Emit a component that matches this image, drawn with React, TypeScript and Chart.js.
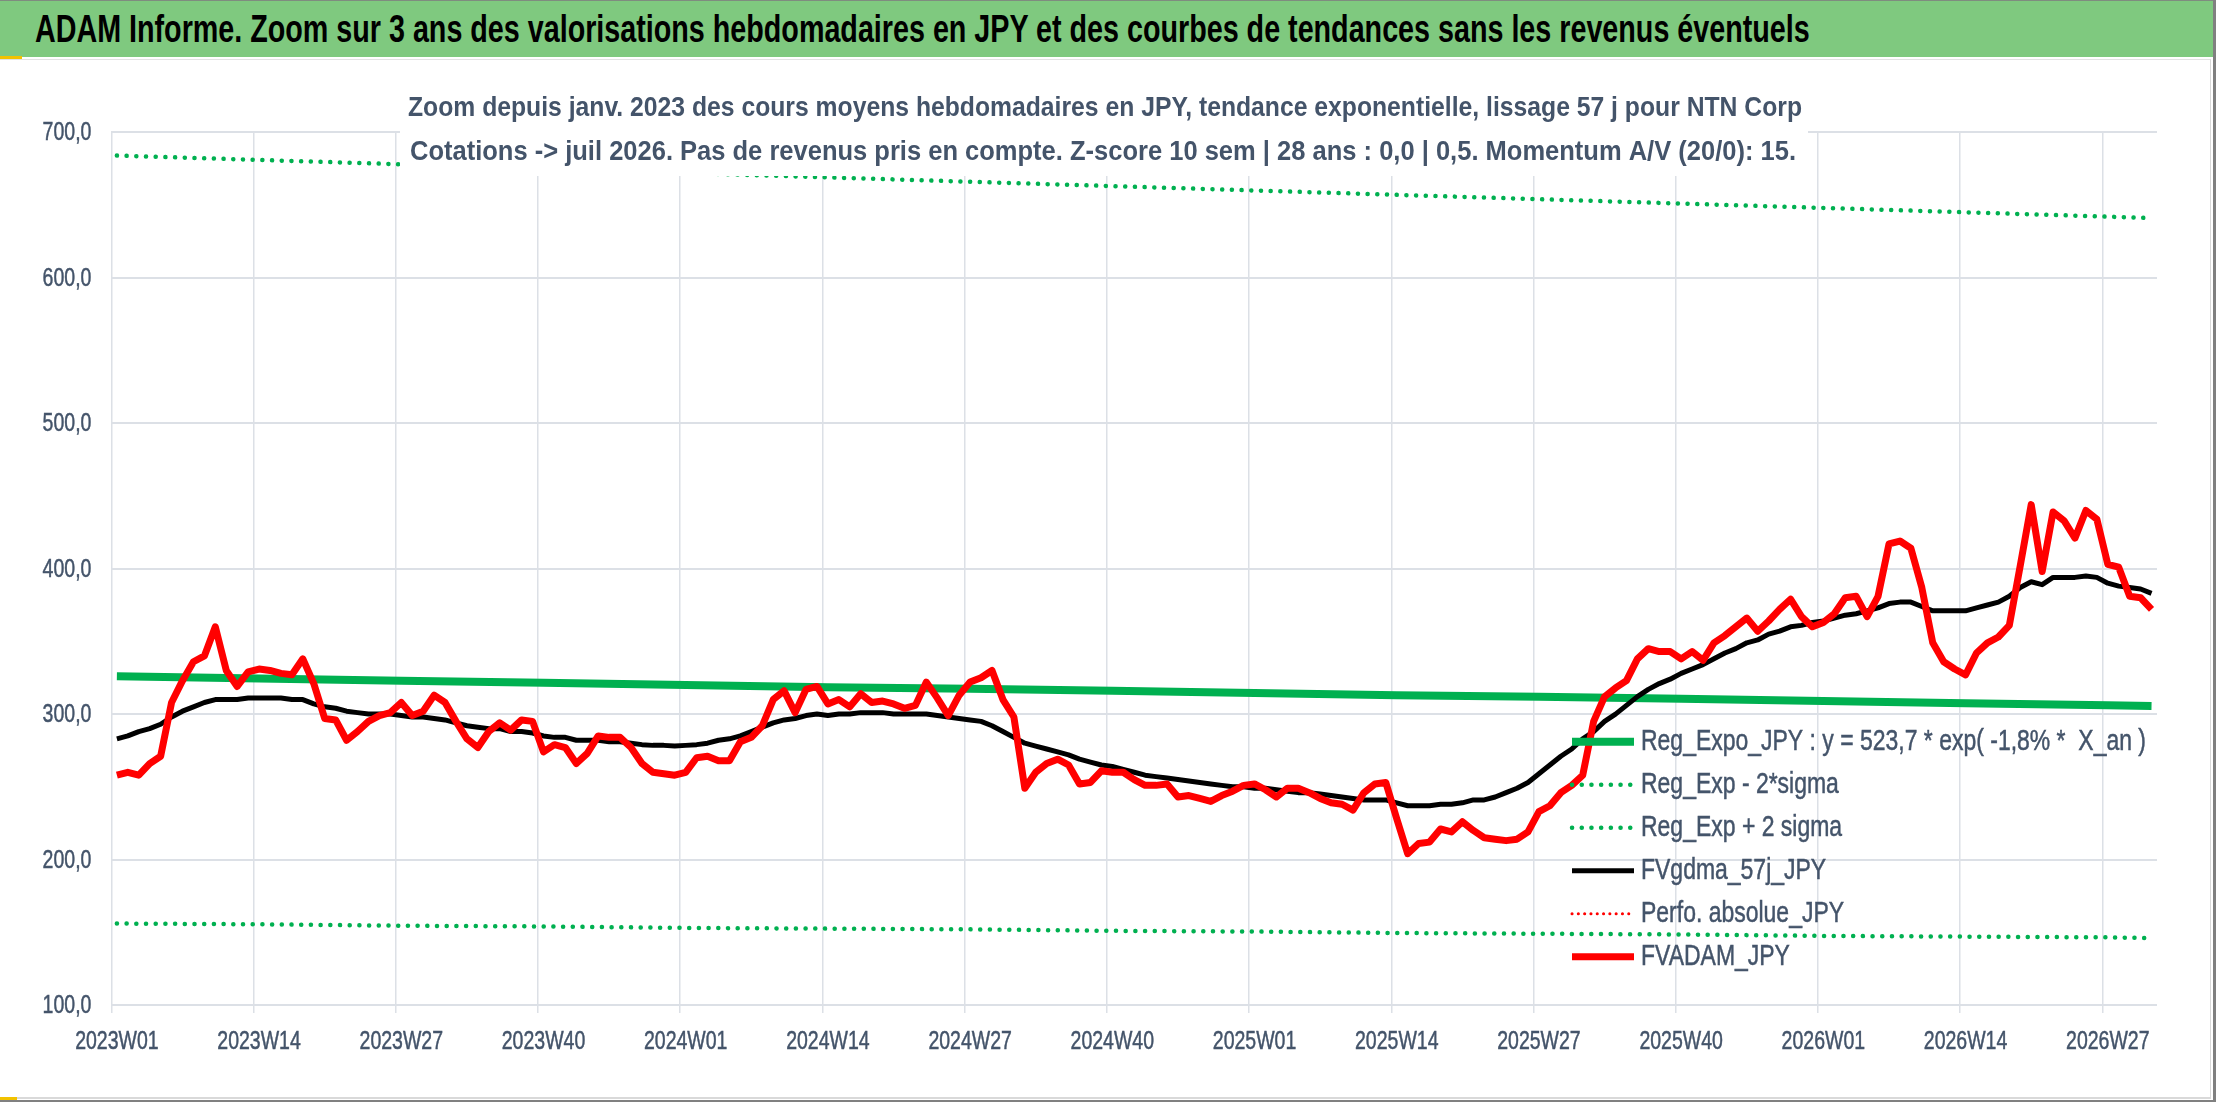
import React, { useEffect, useRef } from "react";
import { Chart, registerables } from "chart.js";

Chart.register(...registerables);

const FONT = '"Liberation Sans", Arial, sans-serif';
const TEXT = "#44546A";
const GRID = "#DCE0E6";
// the original text is a narrow face, so labels are squeezed horizontally
const SQUEEZE = 0.75;

const TITLE =
  "ADAM Informe. Zoom sur 3 ans des valorisations hebdomadaires en JPY et des courbes de tendances sans les revenus éventuels";
const SUBTITLE = [
  "Zoom depuis janv. 2023 des cours moyens hebdomadaires en JPY, tendance exponentielle, lissage 57 j pour NTN Corp",
  "Cotations -> juil 2026. Pas de revenus pris en compte. Z-score 10 sem | 28 ans : 0,0 | 0,5. Momentum A/V (20/0): 15.",
];

// weekly categories start at 2023W01, one label every 13 weeks
const FIRST_YEAR = 2023;
const WEEKS_PER_YEAR = 52;
const LABEL_STEP = 13;

// FVADAM_JPY, weekly average price
const fvadam = [
  258, 260, 258, 266, 271, 308, 323, 336, 340, 360,
  330, 319, 329, 331, 330, 328, 327, 338, 321, 297,
  296, 282, 288, 295, 299, 301, 308, 299, 302, 313,
  308, 295, 283, 277, 288, 294, 289, 296, 295, 274,
  279, 277, 266, 273, 285, 284, 284, 277, 266, 260,
  259, 258, 260, 270, 271, 268, 268, 281, 284, 292,
  310, 316, 301, 317, 319, 307, 310, 305, 314, 308,
  309, 307, 304, 306, 322, 311, 299, 313, 322, 325,
  330, 310, 298, 249, 260, 266, 269, 265, 252, 253,
  261, 260, 260, 255, 251, 251, 252, 243, 244, 242,
  240, 244, 247, 251, 252, 248, 243, 249, 249, 246,
  242, 239, 238, 234, 246, 252, 253, 228, 204, 211,
  212, 221, 219, 226, 220, 215, 214, 213, 214, 219,
  233, 237, 246, 251, 258, 295, 312, 318, 323, 338,
  345, 343, 343, 338, 343, 337, 349, 354, 360, 366,
  357, 364, 372, 379, 367, 360, 363, 369, 380, 381,
  367, 381, 417, 419, 414, 387, 349, 336, 331, 327,
  342, 349, 353, 361, 402, 444, 398, 439, 433, 421,
  440, 434, 403, 401, 381, 380, 372,
];

// FVgdma_57j_JPY, smoothed
const fvgdma = [
  283, 285, 288, 290, 293, 298, 302, 305, 308, 310,
  310, 310, 311, 311, 311, 311, 310, 310, 307, 305,
  304, 302, 301, 300, 300, 300, 299, 298, 298, 297,
  296, 294, 292, 291, 290, 290, 288, 288, 287, 285,
  284, 284, 282, 282, 282, 281, 281, 280, 279, 278.5,
  278.5, 278, 278.5, 279, 280, 282, 283, 285, 288, 291,
  294, 296, 297, 299, 300, 299, 300, 300, 301, 301,
  301, 300, 300, 300, 300, 299, 298, 297, 296, 295,
  292, 288, 284, 280, 278, 276, 274, 272, 269, 267,
  265, 264, 262, 260, 258, 257, 256, 255, 254, 253,
  252, 251, 250, 250, 249, 249, 248, 247, 246, 246,
  245, 244, 243, 242, 241, 241, 241, 239, 237, 237,
  237, 238, 238, 239, 241, 241, 243, 246, 249, 253,
  259, 265, 271, 276, 283, 288, 295, 300, 306, 312,
  317, 321, 324, 328, 331, 334, 338, 342, 345, 349,
  351, 355, 357, 360, 361, 363, 364, 366, 368, 369,
  371, 373, 376, 377, 377, 374, 371, 371, 371, 371,
  373, 375, 377, 381, 387, 391, 389, 394, 394, 394,
  395, 394, 390, 388, 387, 386, 383,
];

// trend lines read at the labelled weeks and at the last week
const trendWeeks = [0, 13, 26, 39, 52, 65, 78, 91, 104, 117, 130, 143, 156, 169, 182, 186];
const regExpo = [326, 324.5, 323, 321.5, 320, 318.5, 317.5, 316, 314.5, 313, 312, 310.5, 309, 307.5, 306, 305.5];
const regMinus2s = [156, 155.5, 154.5, 154, 153, 152.5, 152, 151, 150.5, 149.5, 149, 148.5, 147.5, 147, 146.5, 146];
const regPlus2s = [684, 681, 678, 676, 672, 669, 666, 663, 660, 657, 654, 651, 648, 645, 642, 641];
const perfoAbsolue: number[] = [];

const weeks = fvadam.map((_, i) => {
  const y = FIRST_YEAR + Math.floor(i / WEEKS_PER_YEAR);
  const w = (i % WEEKS_PER_YEAR) + 1;
  return `${y}W${String(w).padStart(2, "0")}`;
});

const sparse = (vals: number[]) =>
  weeks.map((_, i) => {
    const k = trendWeeks.indexOf(i);
    return k < 0 ? null : vals[k];
  });

const fmt = (v: number) => v.toFixed(1).replace(".", ",");

function drawText(
  ctx: CanvasRenderingContext2D,
  text: string,
  x: number,
  y: number,
  sx: number,
  align: CanvasTextAlign,
  heavy = 0
) {
  ctx.save();
  ctx.translate(x, y);
  ctx.scale(sx, 1);
  ctx.textAlign = align;
  ctx.fillText(text, 0, 0);
  if (heavy) {
    ctx.lineWidth = heavy;
    ctx.strokeStyle = ctx.fillStyle;
    ctx.strokeText(text, 0, 0);
  }
  ctx.restore();
}

function fitText(ctx: CanvasRenderingContext2D, text: string, x: number, y: number, width: number, align: CanvasTextAlign) {
  drawText(ctx, text, x, y, width / ctx.measureText(text).width, align);
}

const tickLabelPlugin = {
  id: "narrowTicks",
  afterDraw(chart: Chart) {
    const ctx = chart.ctx;
    const xs = chart.scales.x;
    const ys = chart.scales.y;
    ctx.save();
    ctx.fillStyle = TEXT;
    ctx.font = `26px ${FONT}`;
    ctx.textBaseline = "middle";
    xs.ticks.forEach((_t, i) => {
      if (i % LABEL_STEP !== 0) return;
      drawText(ctx, weeks[i], xs.getPixelForTick(i), xs.top + 37, SQUEEZE, "center", 0.5);
    });
    ys.ticks.forEach((t, i) => {
      drawText(ctx, fmt(Number(t.value)), ys.right - 20, ys.getPixelForTick(i) + 1, SQUEEZE, "right", 0.5);
    });
    ctx.restore();
  },
};

const subtitlePlugin = {
  id: "subtitleBox",
  afterDraw(chart: Chart) {
    const ctx = chart.ctx;
    ctx.save();
    ctx.fillStyle = "#fff";
    ctx.fillRect(400, 24, 1408, 92);
    ctx.fillStyle = TEXT;
    ctx.font = `bold 28px ${FONT}`;
    ctx.textBaseline = "middle";
    fitText(ctx, SUBTITLE[0], 1105, 48.5, 1394, "center");
    fitText(ctx, SUBTITLE[1], 1103, 92.5, 1386, "center");
    ctx.restore();
  },
};

const legendItems = [
  { label: "Reg_Expo_JPY : y = 523,7 * exp( -1,8% *  X_an )", color: "#00B050", width: 8, dash: [] as number[] },
  { label: "Reg_Exp - 2*sigma", color: "#00B050", width: 4.5, dash: [0.1, 9.6] },
  { label: "Reg_Exp + 2 sigma", color: "#00B050", width: 4.5, dash: [0.1, 9.6] },
  { label: "FVgdma_57j_JPY", color: "#000000", width: 5, dash: [] as number[] },
  { label: "Perfo. absolue_JPY", color: "#FF0000", width: 3, dash: [0.1, 6.2] },
  { label: "FVADAM_JPY", color: "#FF0000", width: 7, dash: [] as number[] },
];

const legendPlugin = {
  id: "insideLegend",
  afterDraw(chart: Chart) {
    const ctx = chart.ctx;
    ctx.save();
    ctx.font = `30px ${FONT}`;
    const s = 505 / ctx.measureText(legendItems[0].label).width;
    legendItems.forEach((it, i) => {
      const y = 681.7 + i * 43;
      ctx.beginPath();
      ctx.strokeStyle = it.color;
      ctx.lineWidth = it.width;
      ctx.lineCap = it.dash.length ? "round" : "butt";
      ctx.setLineDash(it.dash);
      ctx.moveTo(1572, y);
      ctx.lineTo(1634, y);
      ctx.stroke();
      ctx.setLineDash([]);
      ctx.fillStyle = TEXT;
      ctx.textBaseline = "middle";
      drawText(ctx, it.label, 1641, y, s, "left", 0.5);
    });
    ctx.restore();
  },
};

function ChartPanel() {
  const ref = useRef<HTMLCanvasElement | null>(null);

  useEffect(() => {
    if (!ref.current) return;

    const chart = new Chart(ref.current, {
      type: "line",
      data: {
        labels: weeks,
        datasets: [
          {
            label: "FVADAM_JPY",
            data: fvadam,
            borderColor: "#FF0000",
            borderWidth: 7,
            borderJoinStyle: "round",
            pointRadius: 0,
            order: 0,
          },
          {
            label: "Perfo. absolue_JPY",
            data: perfoAbsolue,
            borderColor: "#FF0000",
            borderWidth: 3,
            borderDash: [0.1, 6.2],
            borderCapStyle: "round",
            pointRadius: 0,
            order: 1,
          },
          {
            label: "FVgdma_57j_JPY",
            data: fvgdma,
            borderColor: "#000000",
            borderWidth: 5,
            borderJoinStyle: "round",
            pointRadius: 0,
            order: 2,
          },
          {
            label: "Reg_Expo_JPY",
            data: sparse(regExpo),
            borderColor: "#00B050",
            borderWidth: 8,
            spanGaps: true,
            pointRadius: 0,
            order: 3,
          },
          {
            label: "Reg_Exp - 2*sigma",
            data: sparse(regMinus2s),
            borderColor: "#00B050",
            borderWidth: 4.5,
            borderDash: [0.1, 9.6],
            borderCapStyle: "round",
            spanGaps: true,
            pointRadius: 0,
            order: 4,
          },
          {
            label: "Reg_Exp + 2 sigma",
            data: sparse(regPlus2s),
            borderColor: "#00B050",
            borderWidth: 4.5,
            borderDash: [0.1, 9.6],
            borderCapStyle: "round",
            spanGaps: true,
            pointRadius: 0,
            order: 5,
          },
        ],
      },
      options: {
        animation: false,
        responsive: true,
        maintainAspectRatio: false,
        layout: { padding: { top: 72.3, right: 53, left: 0, bottom: 0 } },
        plugins: {
          legend: { display: false },
          tooltip: { enabled: false },
        },
        scales: {
          x: {
            type: "category",
            offset: true,
            border: { display: false },
            grid: {
              offset: true,
              lineWidth: 1.5,
              tickLength: 8,
              color: (c: any) => (c.index % LABEL_STEP === 0 ? GRID : "rgba(0,0,0,0)"),
            },
            ticks: { display: false, autoSkip: false, maxRotation: 0 },
            afterFit: (s: any) => {
              s.height = 91;
            },
          },
          y: {
            min: 100,
            max: 700,
            border: { display: false },
            grid: { color: GRID, lineWidth: 2, drawTicks: false },
            ticks: { display: false, stepSize: 100 },
            afterFit: (s: any) => {
              s.width = 111.4;
            },
          },
        },
      },
      plugins: [tickLabelPlugin, subtitlePlugin, legendPlugin],
    });

    return () => chart.destroy();
  }, []);

  return <canvas ref={ref} style={{ display: "block" }} />;
}

export default function App() {
  const titleRef = useRef<HTMLSpanElement | null>(null);

  useEffect(() => {
    const el = titleRef.current;
    if (!el) return;
    const w = el.offsetWidth;
    if (w > 0) el.style.transform = `scaleX(${1775 / w})`;
  }, []);

  return (
    <div
      style={{
        position: "fixed",
        left: 0,
        top: 0,
        width: 2216,
        height: 1102,
        background: "#fff",
        overflow: "hidden",
      }}
    >
      <div
        style={{
          position: "absolute",
          left: 0,
          top: 0,
          width: 2216,
          height: 56,
          background: "#7FC97F",
          borderTop: "1px solid #7f8c7f",
          display: "flex",
          alignItems: "center",
        }}
      >
        <span
          ref={titleRef}
          style={{
            display: "inline-block",
            marginLeft: 35,
            whiteSpace: "nowrap",
            transformOrigin: "left center",
            fontFamily: FONT,
            fontWeight: "bold",
            fontSize: 39,
            color: "#000",
          }}
        >
          {TITLE}
        </span>
      </div>
      <div style={{ position: "absolute", left: 0, top: 56, width: 22, height: 3, background: "#F2C200" }} />
      <div
        style={{
          position: "absolute",
          left: 0,
          top: 59,
          width: 2210,
          height: 1037,
          borderTop: "1px solid #E2E2E2",
          borderRight: "1px solid #D9D9D9",
          borderBottom: "2px solid #D9D9D9",
        }}
      >
        <div style={{ position: "absolute", left: 0, top: 0, width: 2210, height: 1036 }}>
          <ChartPanel />
        </div>
      </div>
      <div style={{ position: "absolute", right: 0, top: 0, width: 3, height: 1102, background: "#808080" }} />
      <div style={{ position: "absolute", left: 0, bottom: 0, width: 2216, height: 2, background: "#808080" }} />
      <div style={{ position: "absolute", left: 0, bottom: 2, width: 17, height: 3, background: "#F2C200" }} />
    </div>
  );
}
